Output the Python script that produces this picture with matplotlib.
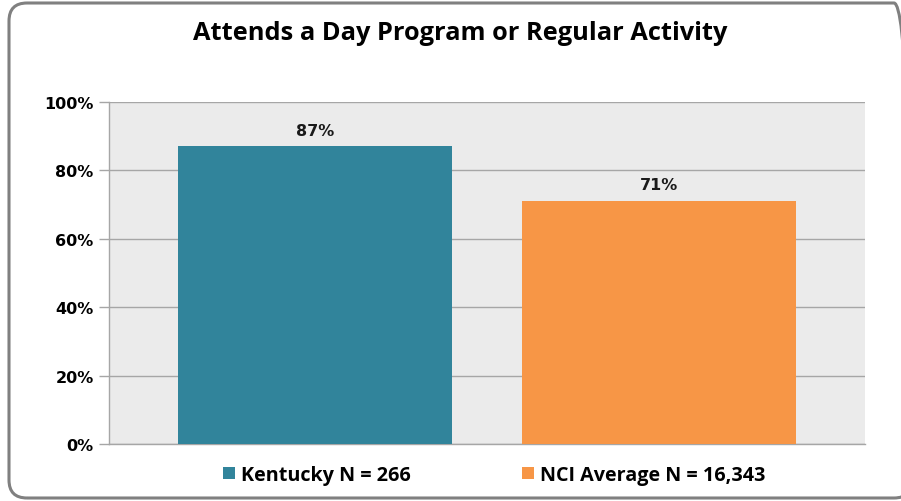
import matplotlib
matplotlib.use("Agg")
import matplotlib.pyplot as plt
from matplotlib.patches import FancyBboxPatch, Patch
from matplotlib.transforms import IdentityTransform

title = "Attends a Day Program or Regular Activity"
series = ["Kentucky N = 266", "NCI Average N = 16,343"]
values = [87, 71]
colors = ["#31849B", "#F79646"]
yticks = [0, 20, 40, 60, 80, 100]
ytick_labels = ["0%", "20%", "40%", "60%", "80%", "100%"]

W, H = 901, 502
fig = plt.figure(figsize=(W / 100, H / 100), dpi=100)
fig.patch.set_facecolor("white")

# rounded border in pixel coordinates (right edge runs off the image)
border = FancyBboxPatch((9, 3), 912 - 9, 498 - 3,
                        boxstyle="round,pad=0,rounding_size=18",
                        transform=IdentityTransform(), facecolor="none",
                        edgecolor="#808080", linewidth=2.2, clip_on=False)
fig.patches.append(border)

ax = fig.add_axes([109 / W, 1 - 445 / H, (865 - 109) / W, (445 - 103) / H])
ax.set_facecolor("#EBEBEB")
x = [0, 1]
bars = ax.bar(x, values, width=0.797, color=colors, zorder=3)
ax.set_xlim(-0.599, 1.599)
ax.set_ylim(0, 100)
ax.set_yticks(yticks)
ax.set_yticklabels(ytick_labels, fontsize=11.5, fontweight="bold",
                   family="DejaVu Sans")
ax.set_xticks([])
ax.yaxis.grid(True, color="#A6A6A6", linewidth=1.0, zorder=1)
ax.tick_params(axis="y", length=7, color="#A6A6A6", width=1.0, pad=4)
for s in ["top", "right"]:
    ax.spines[s].set_visible(False)
for s in ["left", "bottom"]:
    ax.spines[s].set_color("#A6A6A6")
    ax.spines[s].set_linewidth(1.0)

for xi, v in zip(x, values):
    ax.text(xi, v + 2.6, f"{v}%", ha="center", va="bottom", fontsize=11.5,
            fontweight="bold", family="DejaVu Sans", color="#1a1a1a")

fig.text(460 / W, 1 - 34 / H, title, ha="center", va="center", fontsize=18.3,
         fontweight="bold", family="Open Sans", color="black")

handles = [Patch(facecolor=c, edgecolor="none") for c in colors]
leg = fig.legend(handles, series, loc="center", bbox_to_anchor=(0.5485, 1 - 476 / H),
                 ncol=2, frameon=False, handlelength=0.6, handleheight=0.6,
                 handletextpad=0.3, columnspacing=5.65,
                 prop={"family": "Open Sans", "weight": "bold", "size": 14.2})

fig.savefig("out.png", dpi=100)
